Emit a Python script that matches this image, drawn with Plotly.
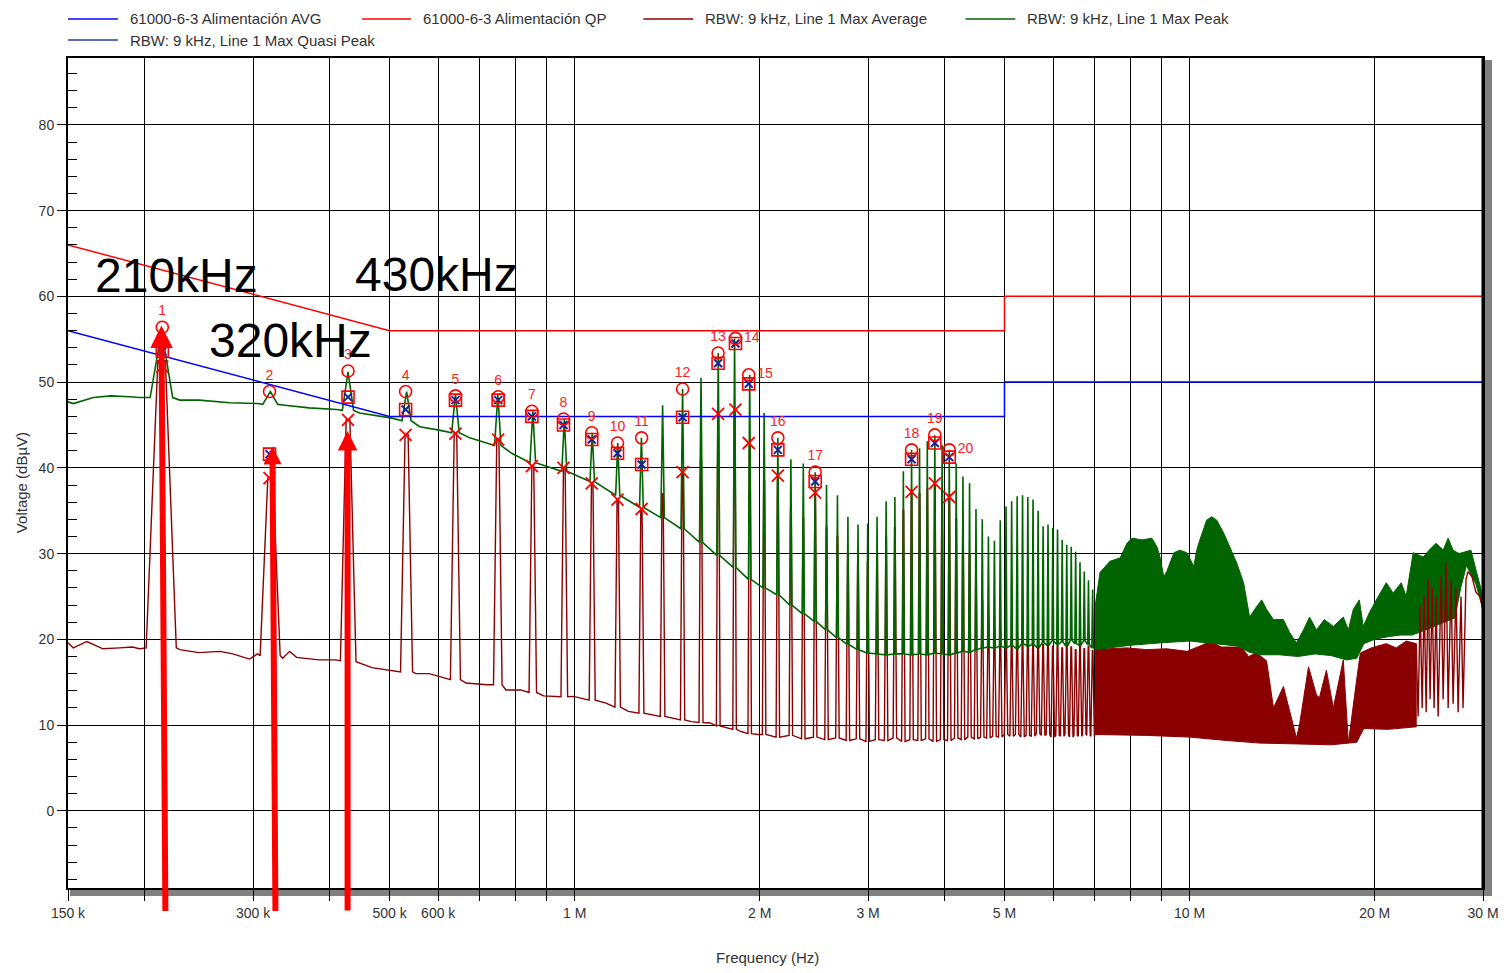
import plotly.graph_objects as go
import math

# ---------------- limit lines ----------------
lim_freq_hz = [150e3, 500e3, 5e6, 5e6, 30e6]
lim_qp_db = [66, 56, 56, 60, 60]
lim_avg_db = [56, 46, 46, 50, 50]

# ---------------- harmonic spikes (150 kHz - 7 MHz) ----------------
harm_khz = [213, 320, 428, 533, 640, 750, 855, 962, 1068, 1175, 1284, 1390, 1498, 1605,
            1712, 1820, 1926, 2033, 2140, 2247, 2354, 2461, 2568, 2675, 2782, 2889, 2996,
            3103, 3210, 3317, 3424, 3531, 3638, 3745, 3852, 3959, 4066, 4173, 4280, 4387,
            4494, 4601, 4708, 4815, 4922, 5029, 5136, 5243, 5350, 5457, 5564, 5671, 5778,
            5885, 5992, 6099, 6206, 6313, 6420, 6527, 6634, 6741, 6848, 6955, 7062]
green_peak_db = [56.0, 48.9, 51.2, 48.9, 48.6, 48.5, 46.6, 45.7, 44.1, 42.9, 43.5, 47.3, 49.2, 50.5,
                 53.4, 55.1, 50.85, 46.4, 43.5, 41.0, 40.5, 39.5, 38.0, 36.8, 34.3, 33.4, 33.5,
                 34.3, 36.1, 36.6, 39.6, 42.1, 42.3, 43.1, 43.8, 42.7, 42.1, 40.5, 39.0, 38.2,
                 35.2, 34.0, 32.0, 31.5, 33.9, 35.5, 36.1, 36.7, 36.8, 36.6, 36.3, 35.0, 33.2,
                 33.4, 33.0, 32.8, 31.6, 31.0, 30.8, 30.2, 29.0, 27.9, 26.9, 25.8, 24.8]
green_base_db = [48.2, 47.4, 46.7, 45.5, 44.1, 42.6, 40.6, 39.6, 38.4, 36.8, 35.4, 34.2, 32.9, 31.3,
                 29.8, 28.4, 27.0, 26.0, 25.2, 24.0, 23.0, 22.1, 21.1, 20.2, 19.4, 18.8, 18.4,
                 18.3, 18.2, 18.3, 18.3, 18.2, 18.3, 18.2, 18.4, 18.3, 18.2, 18.4, 18.6, 18.5,
                 18.8, 19.0, 19.1, 19.0, 19.2, 19.0, 19.3, 18.9, 19.5, 19.2, 19.4, 19.0, 19.6,
                 19.3, 19.8, 19.4, 19.7, 19.2, 19.9, 19.5, 19.3, 19.8, 19.4, 19.0, 18.9]
red_peak_db = [52.5, 38.8, 45.6, 43.9, 44.0, 43.3, 40.2, 40.0, 38.2, 36.3, 35.2, 37.0, 39.5, 41.0,
               46.3, 46.8, 42.9, 38.5, 39.1, 35.0, 34.0, 37.1, 33.0, 32.0, 30.0, 29.0, 29.0,
               30.0, 32.0, 33.0, 35.0, 37.2, 37.0, 37.5, 38.2, 37.5, 36.6, 34.0, 32.0, 30.0,
               27.0, 24.5, 22.5, 21.5, 21.0, 20.6, 20.2, 20.8, 19.9, 20.4, 19.6, 20.1, 19.4,
               19.8, 19.2, 19.6, 19.0, 19.5, 19.1, 18.8, 19.3, 18.9, 19.2, 18.7, 19.0]
red_base_db = [19.0, 18.1, 17.5, 16.2, 15.3, 14.7, 13.8, 13.3, 12.9, 12.1, 11.4, 11.0, 10.6, 10.3,
               9.9, 9.5, 9.0, 8.9, 8.6, 8.8, 8.4, 8.6, 8.3, 8.5, 8.2, 8.4, 8.1,
               8.3, 8.2, 8.5, 8.1, 8.3, 8.2, 8.4, 8.1, 8.3, 8.2, 8.5, 8.3, 8.6,
               8.4, 8.6, 8.5, 8.7, 8.6, 8.9, 8.7, 8.9, 8.6, 8.8, 8.7, 9.0, 8.8,
               8.9, 8.6, 8.8, 8.7, 8.9, 8.6, 8.8, 8.7, 8.9, 8.8, 8.7, 8.9]

# floor readings between the spikes
green_floor_khz = [150, 153, 165, 176, 189, 196, 228, 245, 275, 305, 338, 370, 410, 447,
                   481, 505, 560, 602, 675, 726, 790]
green_floor_db = [47.7, 47.5, 48.2, 48.4, 48.3, 48.2, 47.9, 47.9, 47.6, 47.5, 47.3, 47.0, 46.8, 46.4,
                  46.0, 45.8, 44.8, 44.4, 43.5, 42.8, 41.7]
red_floor_khz = [150, 153, 161, 171, 182, 191, 196, 228, 245, 265, 278, 296, 305, 335, 344, 353,
                 384, 408, 441, 468, 505, 552, 580, 613, 666, 720, 773, 817, 890, 996, 1042,
                 1122, 1223, 1342, 1436, 1548, 1661, 1763, 1865, 1987]
red_floor_db = [19.6, 19.0, 19.75, 18.9, 19.0, 19.1, 18.9, 18.8, 18.45, 18.6, 18.3, 17.7, 18.3, 17.8,
                18.6, 17.9, 17.6, 17.6, 17.4, 16.7, 16.4, 16.0, 16.0, 15.5, 14.9, 14.7, 14.1, 14.1,
                13.4, 13.35, 13.05, 12.6, 11.6, 11.2, 10.85, 10.4, 10.25, 9.7, 9.25, 8.9]

# ---------------- dense part 7 MHz - 30 MHz (envelopes) ----------------
green_top_mhz = [7.02, 7.15, 7.42, 7.71, 7.91, 8.06, 8.37, 8.68, 8.85, 8.95, 9.08, 9.18, 9.43, 9.64,
                 9.90, 10.16, 10.27, 10.39, 10.66, 10.86, 11.07, 11.36, 11.62, 11.93, 12.24, 12.52,
                 12.85, 13.10, 13.34, 13.69, 14.21, 14.54, 14.92, 15.32, 15.67, 16.08, 16.56, 17.13,
                 17.78, 18.12, 18.46, 18.88, 19.16, 19.60, 20.12, 20.88, 21.43, 22.09, 22.50, 23.10,
                 23.98, 24.52, 25.17, 25.84, 26.33, 26.82, 27.43, 28.15, 28.68, 29.22, 30.0]
green_top_db = [23.8, 27.8, 29.1, 29.5, 31.2, 31.8, 31.6, 31.8, 30.8, 29.6, 27.3, 27.9, 30.1, 30.4,
                30.1, 28.5, 30.4, 31.6, 33.9, 34.3, 33.9, 32.4, 30.8, 28.9, 26.6, 22.6,
                23.8, 24.6, 23.5, 22.3, 22.3, 20.8, 19.6, 21.1, 22.6, 21.1, 22.3, 21.5,
                22.6, 21.1, 23.5, 24.6, 21.5, 23.1, 24.6, 26.6, 25.4, 26.6, 25.0, 30.1,
                29.6, 30.4, 31.2, 30.4, 31.8, 30.4, 30.0, 30.2, 30.4, 28.1, 25.0]
green_bot_mhz = [7.02, 8.0, 9.0, 10.0, 11.0, 12.0, 12.5, 13.0, 14.0, 15.0, 16.0, 17.0, 18.0, 18.7,
                 19.2, 20.0, 21.0, 22.0, 23.0, 24.0, 25.0, 26.0, 27.0, 27.6, 28.2, 29.2, 30.0]
green_bot_db = [18.8, 19.3, 19.6, 19.8, 19.5, 19.2, 18.5, 18.2, 18.2, 18.0, 18.3, 18.1, 17.6, 17.8,
                19.5, 20.0, 20.3, 20.5, 20.5, 21.0, 21.5, 22.0, 22.5, 26.0, 28.6, 26.5, 23.5]
red_top_mhz = [7.02, 7.34, 7.91, 8.52, 9.18, 9.90, 10.47, 10.78, 11.27, 12.15, 12.47, 12.85, 13.34,
               13.69, 14.21, 14.92, 15.09, 15.61, 16.08, 16.26, 16.69, 17.13, 17.78, 18.12, 18.67,
               18.95, 19.74, 20.88, 21.68, 22.50, 23.36]
red_top_db = [19.1, 18.9, 19.0, 18.8, 18.9, 18.6, 19.3, 19.75, 19.1, 19.1, 18.0, 18.4, 17.5,
              12.0, 14.5, 8.5, 10.0, 16.8, 13.5, 13.2, 16.4, 12.0, 17.6, 7.9, 15.0,
              18.4, 19.0, 19.5, 19.0, 19.8, 19.5]
red_bot_mhz = [7.02, 8.5, 10.0, 11.5, 13.0, 15.0, 17.0, 18.7, 19.2, 21.0, 23.36]
red_bot_db = [8.9, 8.8, 8.6, 8.2, 7.9, 7.8, 7.7, 8.0, 9.6, 9.5, 9.8]
red_tail_mhz = [23.36, 23.53, 23.71, 23.89, 24.07, 24.25, 24.43, 24.61, 24.80, 24.98, 25.17, 25.36,
                25.65, 25.84, 26.13, 26.33, 26.62, 26.82, 27.12, 27.33, 27.63, 27.84, 28.15, 28.36,
                28.79, 29.22, 29.66, 30.0]
red_tail_db = [19.5, 11.0, 24.0, 12.0, 25.0, 11.5, 27.0, 13.0, 26.0, 12.0, 25.0, 11.0,
               27.5, 13.0, 28.9, 12.0, 27.0, 12.5, 26.0, 11.5, 25.0, 12.0, 27.0, 27.9,
               27.3, 25.5, 25.0, 23.4]

# ---------------- markers ----------------
mk_label = [str(i) for i in range(1, 21)]
mk_khz = [213.5, 319, 428, 531, 640, 751, 852, 959, 1066, 1174, 1285, 1498, 1711, 1826, 1919,
          2140, 2461, 3531, 3852, 4066]
mk_peak_db = [56.4, 48.9, 51.3, 48.9, 48.4, 48.3, 46.6, 45.7, 44.1, 42.9, 43.5, 49.2, 53.4, 55.1,
              50.85, 43.5, 39.5, 42.1, 43.85, 42.1]
mk_qp_db = [53.6, 41.6, 48.25, 46.8, 47.9, 47.9, 46.0, 45.0, 43.3, 41.7, 40.4, 45.9, 52.2, 54.5,
            49.8, 42.1, 38.4, 41.0, 42.9, 41.25]
mk_avg_db = [51.8, 38.8, 45.6, 43.85, 44.0, 43.3, 40.2, 40.0, 38.2, 36.3, 35.2, 39.5, 46.3, 46.8,
             42.9, 39.1, 37.1, 37.2, 38.2, 36.6]

# ---------------- axis ticks ----------------
xtick_hz = [150e3, 200e3, 300e3, 400e3, 500e3, 600e3, 700e3, 800e3, 900e3, 1e6, 2e6, 3e6, 4e6,
            5e6, 6e6, 7e6, 8e6, 9e6, 10e6, 20e6, 30e6]
xtick_text = ['150 k', '', '300 k', '', '500 k', '600 k', '', '', '', '1 M', '2 M', '3 M', '',
              '5 M', '', '', '', '', '10 M', '20 M', '30 M']
ytick_db = [0, 10, 20, 30, 40, 50, 60, 70, 80]

# ---------------- styles ----------------
C_AVG = '#8b0000'
C_PK = '#006400'
C_LIM_QP = '#ff0000'
C_LIM_AVG = '#0000ff'
C_QPLEG = '#2a3aa8'
FONT = 'Arial, Liberation Sans, Helvetica, sans-serif'
W, H = 1511, 973
ML, MR, MT, MB = 68, 24, 58, 85
PW, PH = W - ML - MR, H - MT - MB


def spike_green(f, b, p):
    d = max(9e3, 0.003 * f)
    return [(f - d, b), (f, p), (f + d, b)]


def spike_red(f, b, p):
    d = max(12e3, 0.0065 * f)
    t = max(3e3, 0.0012 * f)
    return [(f - d, b), (f - t, p), (f + t, p), (f + d, b)]


def build(floor_khz, floor_db, base, peak, spike):
    pts = [(k * 1e3, v) for k, v in zip(floor_khz, floor_db)]
    for k, b, p in zip(harm_khz, base, peak):
        pts += spike(k * 1e3, b, p)
    pts.sort(key=lambda t: t[0])
    return [t[0] for t in pts], [t[1] for t in pts]


def band(top_f, top_v, bot_f, bot_v):
    xs = [m * 1e6 for m in top_f] + [m * 1e6 for m in bot_f[::-1]]
    ys = list(top_v) + list(bot_v[::-1])
    return xs, ys


def px(xp):
    return (xp - ML) / PW


def py(yp):
    return (MT + PH - yp) / PH


fig = go.Figure()

# Max Average (dark red)
rx, ry = band(red_top_mhz, red_top_db, red_bot_mhz, red_bot_db)
fig.add_trace(go.Scatter(x=rx, y=ry, mode='lines', fill='toself', fillcolor=C_AVG,
                         line=dict(color=C_AVG, width=1), hoverinfo='skip', showlegend=False))
ax_, ay_ = build(red_floor_khz, red_floor_db, red_base_db, red_peak_db, spike_red)
fig.add_trace(go.Scatter(x=ax_, y=ay_, mode='lines', line=dict(color=C_AVG, width=1.4),
                         name='RBW: 9 kHz, Line 1 Max Average', showlegend=False))

# Max Peak (green)
gx, gy = band(green_top_mhz, green_top_db, green_bot_mhz, green_bot_db)
fig.add_trace(go.Scatter(x=gx, y=gy, mode='lines', fill='toself', fillcolor=C_PK,
                         line=dict(color=C_PK, width=1), hoverinfo='skip', showlegend=False))
px_, py_ = build(green_floor_khz, green_floor_db, green_base_db, green_peak_db, spike_green)
fig.add_trace(go.Scatter(x=px_, y=py_, mode='lines', line=dict(color=C_PK, width=1.6),
                         name='RBW: 9 kHz, Line 1 Max Peak', showlegend=False))

# average tail over the peak trace near 30 MHz
fig.add_trace(go.Scatter(x=[m * 1e6 for m in red_tail_mhz], y=red_tail_db, mode='lines',
                         line=dict(color=C_AVG, width=1.4), hoverinfo='skip', showlegend=False))

# limits
fig.add_trace(go.Scatter(x=lim_freq_hz, y=lim_avg_db, mode='lines',
                         line=dict(color=C_LIM_AVG, width=1.5),
                         name='61000-6-3 Alimentación AVG', showlegend=False))
fig.add_trace(go.Scatter(x=lim_freq_hz, y=lim_qp_db, mode='lines',
                         line=dict(color=C_LIM_QP, width=1.5),
                         name='61000-6-3 Alimentación QP', showlegend=False))

# markers
mk_hz = [k * 1e3 for k in mk_khz]
tpos = ['middle right' if l in ('14', '15', '20') else 'top center' for l in mk_label]
fig.add_trace(go.Scatter(x=mk_hz, y=mk_qp_db, mode='markers',
                         marker=dict(symbol='square-open', size=12, color='#ff0000',
                                     line=dict(width=1.6, color='#ff0000')),
                         showlegend=False, hoverinfo='skip'))
fig.add_trace(go.Scatter(x=mk_hz, y=mk_qp_db, mode='markers',
                         marker=dict(symbol='x-thin-open', size=8, color='#1f1f99',
                                     line=dict(width=2, color='#1f1f99')),
                         showlegend=False, hoverinfo='skip'))
fig.add_trace(go.Scatter(x=mk_hz, y=mk_avg_db, mode='markers',
                         marker=dict(symbol='x-thin-open', size=12, color='#ff0000',
                                     line=dict(width=1.8, color='#ff0000')),
                         showlegend=False, hoverinfo='skip'))
fig.add_trace(go.Scatter(x=mk_hz, y=mk_peak_db, mode='markers+text', text=mk_label,
                         textposition=tpos,
                         textfont=dict(family=FONT, size=14, color='#ff2020'),
                         marker=dict(symbol='circle-open', size=12, color='#ff0000',
                                     line=dict(width=1.6, color='#ff0000')),
                         showlegend=False, hoverinfo='skip'))

shapes = [
    # drop shadow of the chart frame
    dict(type='rect', xref='paper', yref='paper', x0=px(70), x1=px(1495), y0=py(896), y1=py(889),
         fillcolor='#808080', line=dict(width=0), layer='below'),
    dict(type='rect', xref='paper', yref='paper', x0=px(1489), x1=px(1496), y0=py(896), y1=py(60),
         fillcolor='#808080', line=dict(width=0), layer='below'),
    dict(type='line', xref='paper', yref='paper', x0=1, x1=1, y0=0, y1=1,
         line=dict(color='black', width=3)),
]

annotations = []
# legend (manual)
legend_items = [
    (68, 118, 128, 19, C_LIM_AVG, '61000-6-3 Alimentación AVG'),
    (363, 412, 422, 19, C_LIM_QP, '61000-6-3 Alimentación QP'),
    (645, 695, 705, 19, C_AVG, 'RBW: 9 kHz, Line 1 Max Average'),
    (968, 1018, 1028, 19, C_PK, 'RBW: 9 kHz, Line 1 Max Peak'),
    (68, 118, 128, 40, C_QPLEG, 'RBW: 9 kHz, Line 1 Max Quasi Peak'),
]
for x0, x1, xt, yy, col, txt in legend_items:
    shapes.append(dict(type='line', xref='paper', yref='paper', x0=px(x0), x1=px(x1),
                       y0=py(yy), y1=py(yy), line=dict(color=col, width=1.5)))
    annotations.append(dict(xref='paper', yref='paper', x=px(xt), y=py(yy), text=txt,
                            showarrow=False, xanchor='left', yanchor='middle',
                            font=dict(family=FONT, size=15, color='#333333')))

# axis titles
annotations.append(dict(xref='paper', yref='paper', x=px(22), y=py(483), text='Voltage (dBµV)',
                        textangle=-90, showarrow=False, xanchor='center', yanchor='middle',
                        font=dict(family=FONT, size=15, color='#333333')))
annotations.append(dict(xref='paper', yref='paper', x=px(769), y=py(957), text='Frequency (Hz)',
                        showarrow=False, xanchor='center', yanchor='middle',
                        font=dict(family=FONT, size=15, color='#333333')))

# big frequency call-outs
callouts = [('210kHz', 225.3e3, 62.4), ('430kHz', 595e3, 62.5), ('320kHz', 345e3, 54.9)]
for txt, f, v in callouts:
    annotations.append(dict(xref='x', yref='y', x=math.log10(f), y=v, text=txt, showarrow=False,
                            xanchor='center', yanchor='middle',
                            font=dict(family=FONT, size=48, color='black')))

# red arrows (tip at data point, tail below the axis)
arrows = [(212.8e3, 56.6, 4, 587, 0.75), (322.5e3, 42.5, 3, 466, 0.6), (427.3e3, 44.3, 0, 481, 0.65)]
for f, v, dx, dy, sz in arrows:
    annotations.append(dict(xref='x', yref='y', x=math.log10(f), y=v, text='', showarrow=True,
                            ax=dx, ay=dy, arrowhead=2, arrowsize=sz, arrowwidth=6,
                            arrowcolor='#ff0000', standoff=0))

fig.update_layout(
    width=W, height=H,
    margin=dict(l=ML, r=MR, t=MT, b=MB),
    paper_bgcolor='white', plot_bgcolor='white',
    font=dict(family=FONT, size=14, color='#333333'),
    showlegend=False,
    shapes=shapes,
    annotations=annotations,
    xaxis=dict(type='log', range=[math.log10(150e3), math.log10(30e6)],
               tickvals=xtick_hz, ticktext=xtick_text,
               showgrid=True, gridcolor='black', gridwidth=1,
               ticks='outside', ticklen=11, tickcolor='black', tickwidth=1.2,
               showline=True, linecolor='black', linewidth=2, mirror=True,
               tickfont=dict(family=FONT, size=14, color='#333333'),
               zeroline=False),
    yaxis=dict(range=[-9, 87.8], tickvals=ytick_db,
               showgrid=True, gridcolor='black', gridwidth=1,
               ticks='outside', ticklen=9, tickcolor='black', tickwidth=1.2,
               minor=dict(ticks='inside', ticklen=9, dtick=2, tick0=0, tickcolor='black',
                          tickwidth=1.2, showgrid=False),
               showline=True, linecolor='black', linewidth=2, mirror=True,
               tickfont=dict(family=FONT, size=14, color='#333333'),
               zeroline=False),
)

fig.write_html('out.html')
